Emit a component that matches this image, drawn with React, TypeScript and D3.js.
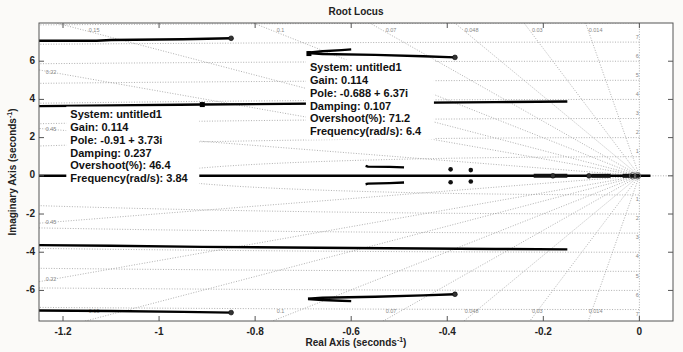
import * as d3 from 'd3';

// axis ticks
const xTicks = [-1.2, -1, -0.8, -0.6, -0.4, -0.2, 0];
const xTickLabels = ['-1.2', '-1', '-0.8', '-0.6', '-0.4', '-0.2', '0'];
const yTicks = [-6, -4, -2, 0, 2, 4, 6];
const yTickLabels = ['-6', '-4', '-2', '0', '2', '4', '6'];

// s-plane grid
const dampingValues = [0.014, 0.03, 0.048, 0.07, 0.1, 0.15, 0.22, 0.45];
const dampingLabels = ['0.014', '0.03', '0.048', '0.07', '0.1', '0.15', '0.22', '0.45'];
const wnValues = [1, 2, 3, 4, 5, 6, 7, 8];
const wnLabels = ['1', '2', '3', '4', '5', '6', '7'];

type Pt = [number, number];

// locus branches
const branchTopUpper: Pt[] = [[-1.25, 7.07], [-1.13, 7.07], [-1.1, 7.11], [-0.95, 7.15], [-0.85, 7.2]];
const branchTopLower: Pt[] = [[-1.25, -7.05], [-1.1, -7.08], [-0.95, -7.12], [-0.85, -7.16]];
const branchMidUpper: Pt[] = [[-1.25, 3.65], [-1.1, 3.68], [-0.91, 3.73], [-0.6, 3.8], [-0.3, 3.86], [-0.15, 3.89]];
const branchMidLower: Pt[] = [[-1.25, -3.63], [-1.1, -3.66], [-0.91, -3.72], [-0.6, -3.78], [-0.3, -3.83], [-0.15, -3.85]];
const loopUpperMain: Pt[] = [[-0.69, 6.43], [-0.66, 6.38], [-0.55, 6.33], [-0.45, 6.26], [-0.384, 6.2]];
const loopUpperProng: Pt[] = [[-0.69, 6.45], [-0.66, 6.52], [-0.62, 6.58], [-0.6, 6.62]];
const loopLowerMain: Pt[] = [[-0.69, -6.43], [-0.66, -6.38], [-0.55, -6.33], [-0.45, -6.26], [-0.384, -6.2]];
const loopLowerProng: Pt[] = [[-0.69, -6.45], [-0.66, -6.5], [-0.62, -6.54], [-0.6, -6.56]];
const smallUpper: Pt[] = [[-0.57, 0.52], [-0.565, 0.48], [-0.52, 0.47], [-0.49, 0.44]];
const smallLower: Pt[] = [[-0.57, -0.44], [-0.565, -0.41], [-0.52, -0.38], [-0.49, -0.35]];
const realAxis: Pt[] = [[-1.25, 0], [0.023, 0]];
const realThick: [number, number][] = [[-0.22, -0.15], [-0.1, -0.06], [-0.035, 0.0]];

const poles: Pt[] = [[-0.393, 0.34], [-0.393, -0.34], [-0.351, 0.3], [-0.351, -0.3]];
const zeros: Pt[] = [[-0.85, 7.2], [-0.85, -7.16], [-0.384, 6.2], [-0.384, -6.2], [-0.18, 0], [-0.105, 0]];
const originMarks: Pt[] = [[-0.014, 0], [-0.004, 0]];

const tip1Lines = ['System: untitled1', 'Gain: 0.114', 'Pole: -0.688 + 6.37i', 'Damping: 0.107', 'Overshoot(%): 71.2', 'Frequency(rad/s): 6.4'];
const tip2Lines = ['System: untitled1', 'Gain: 0.114', 'Pole: -0.91 + 3.73i', 'Damping: 0.237', 'Overshoot(%): 46.4', 'Frequency(rad/s): 3.84'];
const tip1Point: Pt = [-0.688, 6.4];
const tip2Point: Pt = [-0.91, 3.73];

const W = 683;
const H = 352;
const plot = { left: 39, right: 673, top: 23, bottom: 321 };
const FONT = "Arial, 'Liberation Sans', sans-serif";

export default function App() {
  const x = d3.scaleLinear().domain([-1.25, 0.07]).range([plot.left, plot.right]);
  const y = d3.scaleLinear().domain([-7.6, 8]).range([plot.bottom, plot.top]);
  const line = d3.line<Pt>().x((d) => x(d[0])).y((d) => y(d[1]));

  const gridColor = '#9c9c9c';
  const gridLabel = '#888';

  // natural frequency arcs (left half-plane)
  const arc = (r: number) => {
    const pts: Pt[] = d3.range(0, 181, 2).map((a) => {
      const t = ((90 + a) * Math.PI) / 180;
      return [r * Math.cos(t), r * Math.sin(t)];
    });
    return line(pts) ?? '';
  };

  const yTopLabel = y.invert(31);
  const yBotLabel = y.invert(312);
  const xLeftLabel = x.invert(51);

  const dampLabelPos = (z: number, sign: number): Pt => {
    const slope = Math.sqrt(1 - z * z) / z;
    const xr = -Math.abs(yTopLabel) / slope;
    if (xr > xLeftLabel) return [xr + 0.015, sign * (sign > 0 ? yTopLabel : -yBotLabel)];
    return [xLeftLabel, sign * -xLeftLabel * slope];
  };

  const tips = [
    { p: tip1Point, lines: tip1Lines, dx: -3, dy: 6, w: 128, h: 80 },
    { p: tip2Point, lines: tip2Lines, dx: -136, dy: 2, w: 133, h: 78 },
  ];

  const branches = [
    branchTopUpper, branchTopLower, branchMidUpper, branchMidLower,
    loopUpperMain, loopUpperProng, loopLowerMain, loopLowerProng,
    smallUpper, smallLower, realAxis,
  ];

  return (
    <svg width={W} height={H} style={{ position: 'fixed', left: 0, top: 0, background: '#fbfaf8' }} fontFamily={FONT}>
      <defs>
        <clipPath id="plotClip">
          <rect x={plot.left} y={plot.top} width={plot.right - plot.left} height={plot.bottom - plot.top} />
        </clipPath>
      </defs>
      <rect x={plot.left} y={plot.top} width={plot.right - plot.left} height={plot.bottom - plot.top} fill="#fff" />

      <g clipPath="url(#plotClip)" fill="none" stroke={gridColor} strokeWidth={0.8} strokeDasharray="1,1.6">
        {wnValues.map((r) => (
          <path key={`wn${r}`} d={arc(r)} />
        ))}
        {dampingValues.map((z) => {
          const s = Math.sqrt(1 - z * z) / z;
          return (
            <g key={`z${z}`}>
              <path d={line([[0, 0], [-20 / s, 20]]) ?? ''} />
              <path d={line([[0, 0], [-20 / s, -20]]) ?? ''} />
            </g>
          );
        })}
        <path d={line([[-1.25, 0], [0.07, 0]]) ?? ''} />
        <path d={line([[0, -7.6], [0, 8]]) ?? ''} />
      </g>

      <g fontSize={5.5} fill={gridLabel} textAnchor="middle" dominantBaseline="middle">
        {dampingValues.map((z, i) =>
          [1, -1].map((sg) => {
            const [lx, ly] = dampLabelPos(z, sg);
            return (
              <text key={`zl${i}${sg}`} x={x(lx)} y={y(ly)}>
                {dampingLabels[i]}
              </text>
            );
          }),
        )}
        {wnLabels.map((l, i) =>
          [1, -1].map((sg) => (
            <text key={`wl${i}${sg}`} x={x(0) - 2} y={y(sg * (wnValues[i] + 0.25))}>
              {l}
            </text>
          )),
        )}
      </g>

      <g clipPath="url(#plotClip)">
        {branches.map((b, i) => (
          <path key={`b${i}`} d={line(b) ?? ''} fill="none" stroke="#000" strokeWidth={2.4} strokeLinejoin="round" />
        ))}
        {realThick.map(([a, b], i) => (
          <path key={`rt${i}`} d={line([[a, 0], [b, 0]]) ?? ''} stroke="#111" strokeWidth={4} />
        ))}
        {zeros.map(([px, py], i) => (
          <circle key={`z${i}`} cx={x(px)} cy={y(py)} r={2.4} fill="#333" stroke="#000" strokeWidth={0.6} />
        ))}
        {originMarks.map(([px, py], i) => (
          <circle key={`o${i}`} cx={x(px)} cy={y(py)} r={3.2} fill="none" stroke="#666" strokeWidth={1} />
        ))}
        {poles.map(([px, py], i) => (
          <circle key={`p${i}`} cx={x(px)} cy={y(py)} r={2.3} fill="#111" />
        ))}
      </g>

      {/* data tips */}
      {tips.map((t, i) => {
        const px = x(t.p[0]);
        const py = y(t.p[1]);
        return (
          <g key={`tip${i}`}>
            <rect x={px + t.dx} y={py + t.dy} width={t.w} height={t.h} fill="#fff" />
            <rect x={px - 2.5} y={py - 2.5} width={5} height={5} fill="#000" />
            {t.lines.map((l, j) => (
              <text key={j} x={px + t.dx + 4} y={py + t.dy + 9 + j * 12.7} fontSize={11} fontWeight="bold" fill="#111" dominantBaseline="middle">
                {l}
              </text>
            ))}
          </g>
        );
      })}

      {/* axes frame and ticks */}
      <rect x={plot.left} y={plot.top} width={plot.right - plot.left} height={plot.bottom - plot.top} fill="none" stroke="#555" strokeWidth={1} />
      <g stroke="#555" strokeWidth={1}>
        {xTicks.map((t) => (
          <g key={`xt${t}`}>
            <line x1={x(t)} x2={x(t)} y1={plot.bottom} y2={plot.bottom - 5} />
            <line x1={x(t)} x2={x(t)} y1={plot.top} y2={plot.top + 5} />
          </g>
        ))}
        {yTicks.map((t) => (
          <g key={`yt${t}`}>
            <line x1={plot.left} x2={plot.left + 5} y1={y(t)} y2={y(t)} />
            <line x1={plot.right} x2={plot.right - 5} y1={y(t)} y2={y(t)} />
          </g>
        ))}
      </g>
      <g fontSize={10} fontWeight="bold" fill="#222">
        {xTicks.map((t, i) => (
          <text key={`xl${t}`} x={x(t)} y={plot.bottom + 11} textAnchor="middle" dominantBaseline="middle">
            {xTickLabels[i]}
          </text>
        ))}
        {yTicks.map((t, i) => (
          <text key={`yl${t}`} x={plot.left - 4} y={y(t)} textAnchor="end" dominantBaseline="middle">
            {yTickLabels[i]}
          </text>
        ))}
      </g>

      <text x={(plot.left + plot.right) / 2} y={12} textAnchor="middle" dominantBaseline="middle" fontSize={10} fontWeight="bold" fill="#222">
        Root Locus
      </text>
      <text x={(plot.left + plot.right) / 2} y={346} textAnchor="middle" fontSize={10} fontWeight="bold" fill="#222">
        Real Axis (seconds<tspan fontSize={7} dy={-4}>-1</tspan><tspan dy={4}>)</tspan>
      </text>
      <text transform={`translate(16, ${(plot.top + plot.bottom) / 2}) rotate(-90)`} textAnchor="middle" fontSize={10} fontWeight="bold" fill="#222">
        Imaginary Axis (seconds<tspan fontSize={7} dy={-4}>-1</tspan><tspan dy={4}>)</tspan>
      </text>
    </svg>
  );
}
